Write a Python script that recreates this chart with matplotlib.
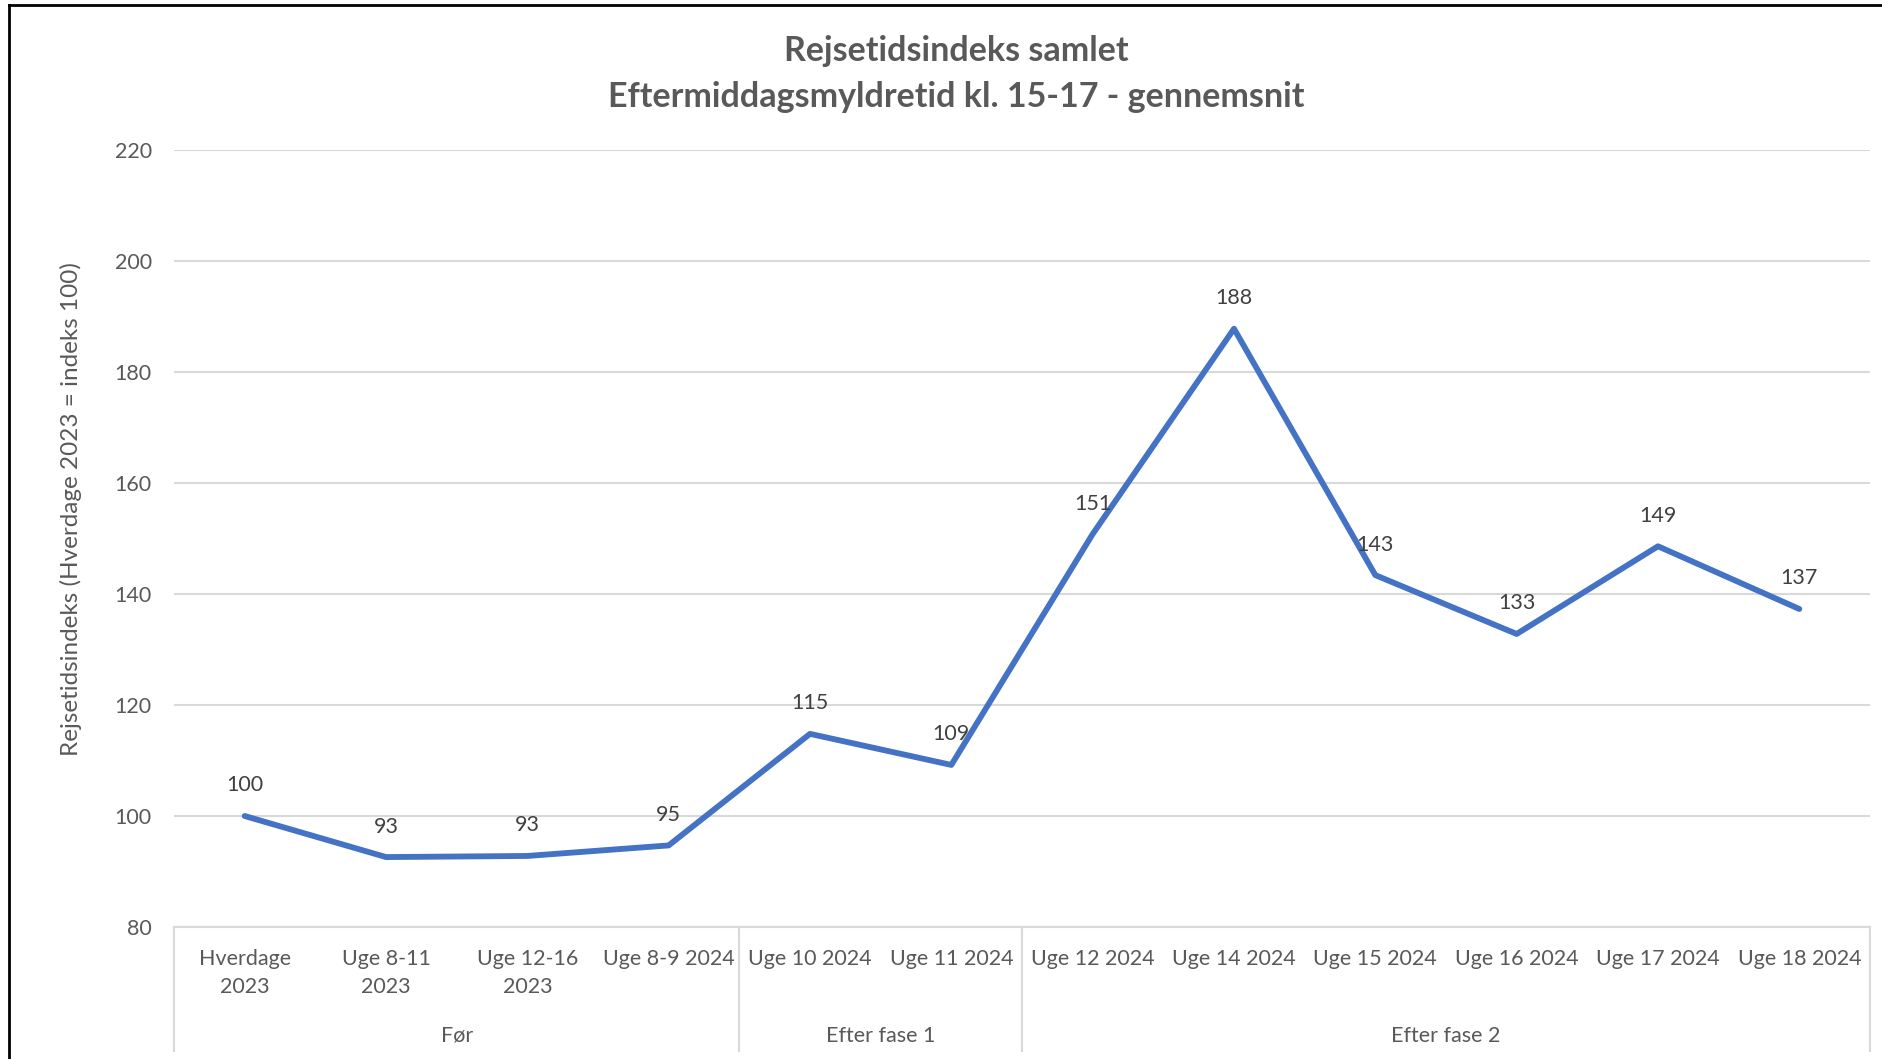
import matplotlib
matplotlib.use("Agg")
import matplotlib.pyplot as plt
from matplotlib.lines import Line2D
import matplotlib.transforms as mtransforms

plt.rcParams['font.family'] = ['Lato', 'DejaVu Sans']

categories = ["Hverdage\n2023", "Uge 8-11\n2023", "Uge 12-16\n2023", "Uge 8-9 2024",
              "Uge 10 2024", "Uge 11 2024", "Uge 12 2024", "Uge 14 2024",
              "Uge 15 2024", "Uge 16 2024", "Uge 17 2024", "Uge 18 2024"]
values = [100.0, 92.6, 92.8, 94.7, 114.8, 109.2, 150.8, 187.8, 143.4, 132.8, 148.6, 137.3]
value_labels = ["100", "93", "93", "95", "115", "109", "151", "188", "143", "133", "149", "137"]
groups = ["Før", "Efter fase 1", "Efter fase 2"]
group_sizes = [4, 2, 6]
yticks = [80, 100, 120, 140, 160, 180, 200, 220]

W, H = 1883, 1059
fig = plt.figure(figsize=(W / 100, H / 100), dpi=100)
fig.patch.set_facecolor("white")

left_px, right_px, top_px, bot_px = 174, 1870, 150, 927
ax = fig.add_axes([left_px / W, 1 - bot_px / H, (right_px - left_px) / W, (bot_px - top_px) / H])

x = list(range(len(categories)))
ax.plot(x, values, color="#4472C4", lw=4.2, solid_joinstyle="round", solid_capstyle="round", zorder=3)
for xi, v, lab in zip(x, values, value_labels):
    ax.annotate(lab, (xi, v), xytext=(0, 22), textcoords="offset points",
                ha="center", va="center", fontsize=15.5, color="#404040")

ax.set_xlim(-0.5, len(categories) - 0.5)
ax.set_ylim(yticks[0], yticks[-1])
ax.set_yticks(yticks)
ax.yaxis.grid(True, color="#D9D9D9", lw=1.5)
ax.set_axisbelow(True)
for s in ["top", "right", "left"]:
    ax.spines[s].set_visible(False)
ax.spines["bottom"].set_color("#D9D9D9")
ax.spines["bottom"].set_linewidth(1.5)
ax.tick_params(axis="y", length=0, pad=16, labelsize=15.5, labelcolor="#595959")
ax.set_xticks(x)
ax.set_xticklabels(categories, fontsize=15.5, color="#595959", linespacing=1.5)
ax.tick_params(axis="x", length=0, pad=16)

ax.set_ylabel("Rejsetidsindeks (Hverdage 2023 = indeks 100)", fontsize=17.5, color="#595959")
ax.yaxis.set_label_coords(-0.054, 0.538)

trans = mtransforms.blended_transform_factory(ax.transData, ax.transAxes)
plot_h = bot_px - top_px
y_sep_bottom = -(1051 - bot_px) / plot_h
y_group = -(1036 - bot_px) / plot_h
start = -0.5
bounds = [start]
for g, n in zip(groups, group_sizes):
    end = start + n
    ax.text((start + end) / 2, y_group, g, transform=trans, ha="center", va="center",
            fontsize=15.5, color="#595959")
    bounds.append(end)
    start = end
for b in bounds:
    ax.add_line(Line2D([b, b], [0, y_sep_bottom], transform=trans, color="#D9D9D9",
                       lw=1.5, clip_on=False))

fig.text(956 / W, 1 - 51 / H, "Rejsetidsindeks samlet", ha="center", va="center",
         fontsize=24.5, fontweight="bold", color="#595959")
fig.text(956 / W, 1 - 97 / H, "Eftermiddagsmyldretid kl. 15-17 - gennemsnit", ha="center", va="center",
         fontsize=24.5, fontweight="bold", color="#595959")

# outer frame edges (left and top visible in the cropped reference)
fig.add_artist(Line2D([9 / W, 9 / W], [0, 1 - 5 / H], transform=fig.transFigure, color="black", lw=2))
fig.add_artist(Line2D([9 / W, 1], [1 - 5 / H, 1 - 5 / H], transform=fig.transFigure, color="black", lw=2))

fig.savefig("out.png", dpi=100)
